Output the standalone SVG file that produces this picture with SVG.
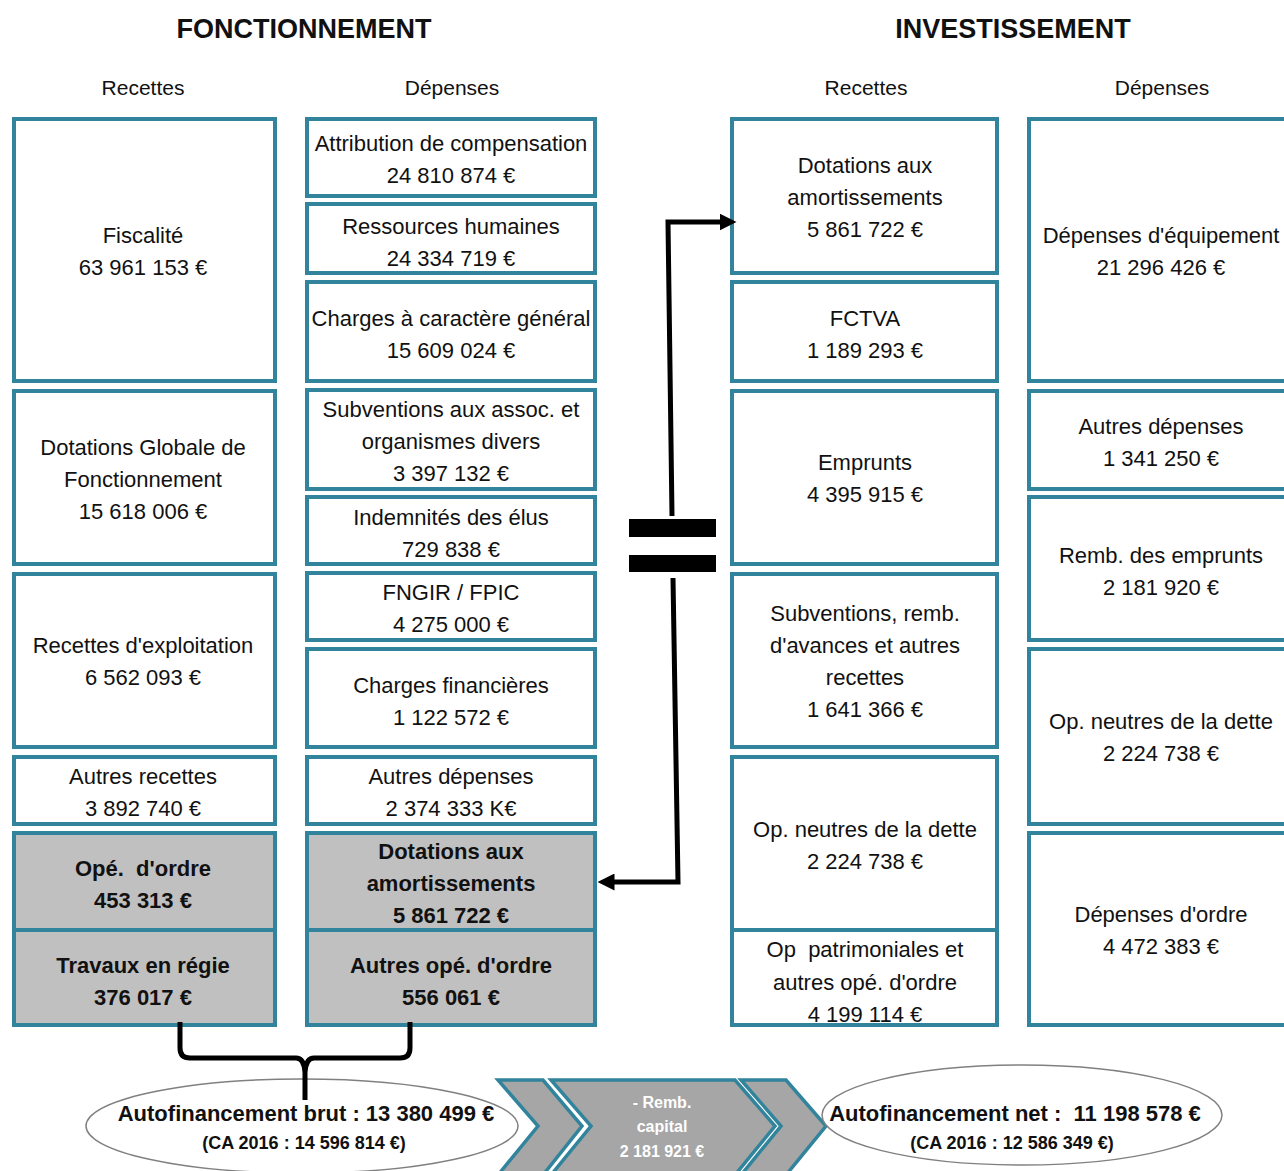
<svg xmlns="http://www.w3.org/2000/svg" width="1284" height="1171" viewBox="0 0 1284 1171">
<defs>
<style>
.b{fill:#fff;stroke:#31849B;stroke-width:4}
.g{fill:#C0C0C0;stroke:#31849B;stroke-width:4}
text{font-family:"Liberation Sans",Arial,sans-serif;fill:#111;text-anchor:middle;white-space:pre}
.t{font-size:22px}
.tb{font-size:22px;font-weight:bold}
.h{font-size:27px;font-weight:bold}
.s{font-size:21px}
.e{fill:#fff;stroke:#808080;stroke-width:1.5}
.ch{fill:#A6A6A6;stroke:#31849B;stroke-width:3.5}
.ln{fill:none;stroke:#000;stroke-width:5}
</style>
<marker id="ah" markerWidth="3.4" markerHeight="3.4" refX="0.1" refY="1.7" orient="auto" markerUnits="strokeWidth">
<path d="M0,0 L3.4,1.7 L0,3.4 Z" fill="#000"/>
</marker>
</defs>
<rect width="1284" height="1171" fill="#fff"/>

<g id="headers">
<text class="h" x="304" y="38">FONCTIONNEMENT</text>
<text class="h" x="1013" y="38">INVESTISSEMENT</text>
<text class="s" x="143" y="95">Recettes</text>
<text class="s" x="452" y="95">Dépenses</text>
<text class="s" x="866" y="95">Recettes</text>
<text class="s" x="1162" y="95">Dépenses</text>
</g>

<!-- Fonctionnement Recettes -->
<g id="fiscalite"><rect class="b" x="14" y="119" width="261" height="262"/>
<text class="t" x="143" y="243">Fiscalité</text><text class="t" x="143" y="275">63 961 153 €</text></g>
<g id="dgf"><rect class="b" x="14" y="391" width="261" height="173"/>
<text class="t" x="143" y="455">Dotations Globale de</text><text class="t" x="143" y="487">Fonctionnement</text><text class="t" x="143" y="519">15 618 006 €</text></g>
<g id="rec-exploit"><rect class="b" x="14" y="574" width="261" height="173"/>
<text class="t" x="143" y="653">Recettes d'exploitation</text><text class="t" x="143" y="685">6 562 093 €</text></g>
<g id="autres-recettes"><rect class="b" x="14" y="757" width="261" height="67"/>
<text class="t" x="143" y="784">Autres recettes</text><text class="t" x="143" y="816">3 892 740 €</text></g>
<g id="ope-ordre"><rect class="g" x="14" y="833" width="261" height="97"/>
<text class="tb" x="143" y="876">Opé.  d'ordre</text><text class="tb" x="143" y="908">453 313 €</text></g>
<g id="travaux-regie"><rect class="g" x="14" y="930" width="261" height="95"/>
<text class="tb" x="143" y="973">Travaux en régie</text><text class="tb" x="143" y="1005">376 017 €</text></g>

<!-- Fonctionnement Dépenses -->
<g id="attribution"><rect class="b" x="307" y="119" width="288" height="77"/>
<text class="t" x="451" y="151">Attribution de compensation</text><text class="t" x="451" y="183">24 810 874 €</text></g>
<g id="rh"><rect class="b" x="307" y="204" width="288" height="69"/>
<text class="t" x="451" y="234">Ressources humaines</text><text class="t" x="451" y="266">24 334 719 €</text></g>
<g id="charges-gen"><rect class="b" x="307" y="282" width="288" height="99"/>
<text class="t" x="451" y="326">Charges à caractère général</text><text class="t" x="451" y="358">15 609 024 €</text></g>
<g id="subventions-f"><rect class="b" x="307" y="390" width="288" height="99"/>
<text class="t" x="451" y="417">Subventions aux assoc. et</text><text class="t" x="451" y="449">organismes divers</text><text class="t" x="451" y="481">3 397 132 €</text></g>
<g id="indemnites"><rect class="b" x="307" y="497" width="288" height="67"/>
<text class="t" x="451" y="525">Indemnités des élus</text><text class="t" x="451" y="557">729 838 €</text></g>
<g id="fngir"><rect class="b" x="307" y="573" width="288" height="67"/>
<text class="t" x="451" y="600">FNGIR / FPIC</text><text class="t" x="451" y="632">4 275 000 €</text></g>
<g id="charges-fin"><rect class="b" x="307" y="649" width="288" height="98"/>
<text class="t" x="451" y="693">Charges financières</text><text class="t" x="451" y="725">1 122 572 €</text></g>
<g id="autres-dep-f"><rect class="b" x="307" y="757" width="288" height="67"/>
<text class="t" x="451" y="784">Autres dépenses</text><text class="t" x="451" y="816">2 374 333 K€</text></g>
<g id="dotations-f"><rect class="g" x="307" y="833" width="288" height="97"/>
<text class="tb" x="451" y="859">Dotations aux</text><text class="tb" x="451" y="891">amortissements</text><text class="tb" x="451" y="923">5 861 722 €</text></g>
<g id="autres-ope"><rect class="g" x="307" y="930" width="288" height="95"/>
<text class="tb" x="451" y="973">Autres opé. d'ordre</text><text class="tb" x="451" y="1005">556 061 €</text></g>

<!-- Investissement Recettes -->
<g id="dotations-i"><rect class="b" x="732" y="119" width="265" height="154"/>
<text class="t" x="865" y="173">Dotations aux</text><text class="t" x="865" y="205">amortissements</text><text class="t" x="865" y="237">5 861 722 €</text></g>
<g id="fctva"><rect class="b" x="732" y="282" width="265" height="99"/>
<text class="t" x="865" y="326">FCTVA</text><text class="t" x="865" y="358">1 189 293 €</text></g>
<g id="emprunts"><rect class="b" x="732" y="391" width="265" height="173"/>
<text class="t" x="865" y="470">Emprunts</text><text class="t" x="865" y="502">4 395 915 €</text></g>
<g id="subventions-i"><rect class="b" x="732" y="574" width="265" height="173"/>
<text class="t" x="865" y="621">Subventions, remb.</text><text class="t" x="865" y="653">d'avances et autres</text><text class="t" x="865" y="685">recettes</text><text class="t" x="865" y="717">1 641 366 €</text></g>
<g id="op-neutres-r"><rect class="b" x="732" y="757" width="265" height="173"/>
<text class="t" x="865" y="837">Op. neutres de la dette</text><text class="t" x="865" y="869">2 224 738 €</text></g>
<g id="op-patrim"><rect class="b" x="732" y="930" width="265" height="95"/>
<text class="t" x="865" y="957">Op  patrimoniales et</text><text class="t" x="865" y="990">autres opé. d'ordre</text><text class="t" x="865" y="1022">4 199 114 €</text></g>

<!-- Investissement Dépenses -->
<g id="dep-equip"><rect class="b" x="1029" y="119" width="280" height="262"/>
<text class="t" x="1161" y="243">Dépenses d'équipement</text><text class="t" x="1161" y="275">21 296 426 €</text></g>
<g id="autres-dep-i"><rect class="b" x="1029" y="391" width="280" height="98"/>
<text class="t" x="1161" y="434">Autres dépenses</text><text class="t" x="1161" y="466">1 341 250 €</text></g>
<g id="remb-emprunts"><rect class="b" x="1029" y="497" width="280" height="143"/>
<text class="t" x="1161" y="563">Remb. des emprunts</text><text class="t" x="1161" y="595">2 181 920 €</text></g>
<g id="op-neutres-d"><rect class="b" x="1029" y="649" width="280" height="175"/>
<text class="t" x="1161" y="729">Op. neutres de la dette</text><text class="t" x="1161" y="761">2 224 738 €</text></g>
<g id="dep-ordre"><rect class="b" x="1029" y="833" width="280" height="192"/>
<text class="t" x="1161" y="922">Dépenses d'ordre</text><text class="t" x="1161" y="954">4 472 383 €</text></g>

<!-- Equal sign -->
<g id="equal">
<rect x="629" y="519" width="87" height="18" fill="#000"/>
<rect x="629" y="555" width="87" height="17" fill="#000"/>
</g>

<!-- Bottom ellipses and chevrons -->
<g id="autofinancement-brut">
<ellipse class="e" cx="302" cy="1126" rx="216" ry="47"/>
<text class="tb" x="306" y="1121">Autofinancement brut : 13 380 499 €</text>
<text x="304" y="1149" style="font-size:18px;font-weight:bold">(CA 2016 : 14 596 814 €)</text>
</g>
<g id="chevron1">
<path class="ch" d="M498,1080 L543,1080 L582,1126 L543,1175 L498,1175 L538,1126 Z"/>
</g>
<g id="remb-capital">
<path class="ch" d="M551,1080 L735,1080 L775,1126 L735,1175 L551,1175 L591,1126 Z"/>
<text x="662" y="1108" style="font-size:16px;font-weight:bold;fill:#fff">- Remb.</text>
<text x="662" y="1132" style="font-size:16px;font-weight:bold;fill:#fff">capital</text>
<text x="662" y="1157" style="font-size:16px;font-weight:bold;fill:#fff">2 181 921 €</text>
</g>
<g id="chevron3">
<path class="ch" d="M741,1080 L786,1080 L826,1126 L786,1175 L741,1175 L781,1126 Z"/>
</g>
<g id="autofinancement-net">
<ellipse class="e" cx="1022" cy="1115" rx="200" ry="50"/>
<text class="tb" x="1015" y="1121">Autofinancement net :  11 198 578 €</text>
<text x="1012" y="1149" style="font-size:18px;font-weight:bold">(CA 2016 : 12 586 349 €)</text>
</g>

<!-- Connectors -->
<g id="connectors">
<path class="ln" d="M672,516 L668,222 L720,222" marker-end="url(#ah)"/>
<path class="ln" d="M673,578 L678,882 L614,882" marker-end="url(#ah)"/>
<path class="ln" d="M180,1022 L180,1048 Q180,1058 190,1058 L296,1058 Q304,1058 305,1072 L305,1100 M305,1072 Q306,1058 314,1058 L400,1058 Q410,1058 410,1048 L410,1022"/>
</g>
</svg>
